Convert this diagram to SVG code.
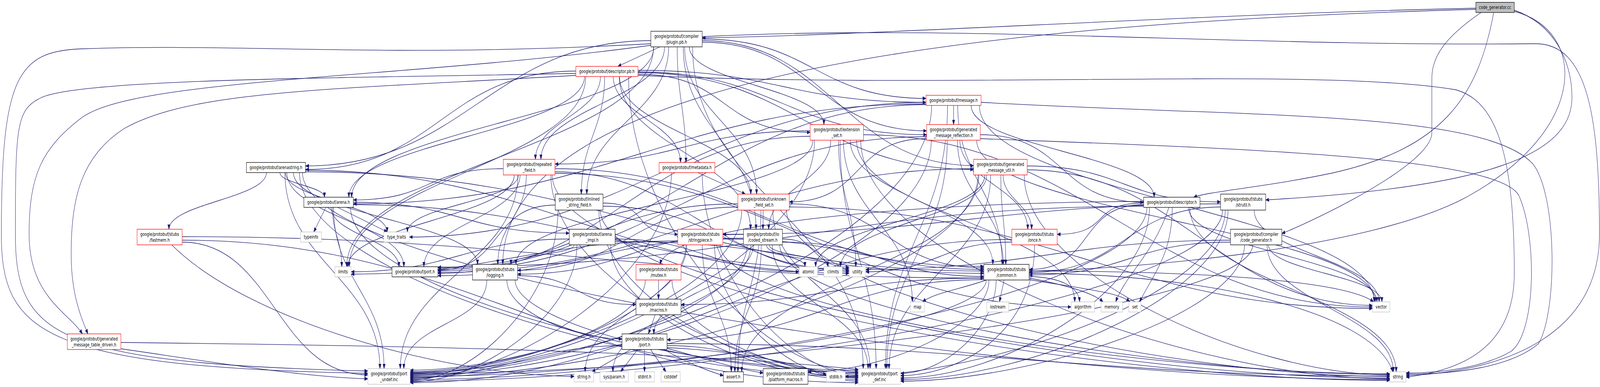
<svg xmlns="http://www.w3.org/2000/svg" width="5824" height="991" viewBox="0 0 5824 991" preserveAspectRatio="none" style="width:100vw;height:100vh">
<style>
rect{fill:#fff;stroke:#000;stroke-width:1.3}
.r rect{stroke:#ff0000}
.g rect{stroke:#bfbfbf}
.root rect{fill:#bfbfbf}
text{font-family:"DejaVu Sans","Liberation Sans",sans-serif;font-size:12.8px;text-anchor:middle;fill:#000}
#edges path{fill:none;stroke:#191970;stroke-width:1.3;marker-end:url(#ah)}
</style>
<defs>
<marker id="ah" markerUnits="userSpaceOnUse" markerWidth="12" markerHeight="10" viewBox="0 0 12 10" refX="12" refY="5" orient="auto"><path d="M0,0.5 L12,5 L0,9.5 z" fill="#191970" stroke="#191970"/></marker>
</defs>
<rect x="0" y="0" width="5824" height="991" style="fill:#fff;stroke:none"/>
<g id="edges">
<path d="M5391,32 C5250,100 5212,150 5212,200 L5212,340 C5212,420 4800,560 4666,598"/>
<path d="M5372,21 C4400,35 3200,90 2556,97"/>
<path d="M5437,32 C5380,250 5250,380 4850,443 C4600,480 4400,490 4345,505"/>
<path d="M5372,24 C3500,60 1830,200 1830,677"/>
<path d="M5512,29 C5780,80 5780,330 5350,500 C5000,640 4100,690 3746,694"/>
<path d="M5512,26 C5650,60 5722,150 5722,250 C5722,400 5400,480 4607,512"/>
<path d="M2379,120 C2379,373 1262,430 1262,683"/>
<path d="M2556,94 C3500,60 4500,120 5587,112 C5780,110 5822,300 5822,600 C5822,850 5500,950 5118,962"/>
<path d="M2521,120 C2521,491 3142,573 3142,944"/>
<path d="M2369,112 C1400,150 900,110 300,125 C60,130 5,200 5,600 C5,850 150,940 1339,956"/>
<path d="M2487,120 C2487,330 2752,377 2752,587"/>
<path d="M2380,120 C2380,293 1280,332 1280,505"/>
<path d="M2369,104 C1786,104 1695,425 1112,425"/>
<path d="M2369,116 C1500,200 500,200 300,300 C150,380 106,450 106,600 C106,760 250,800 300,855"/>
<path d="M2556,104 C3028,104 3072,424 3544,424"/>
<path d="M2434,120 C2434,290 2136,327 2136,497"/>
<path d="M2465,120 C2465,253 2497,283 2497,416"/>
<path d="M2556,108 C2959,108 2970,335 3373,335"/>
<path d="M2556,100 C2960,100 2967,252 3371,252"/>
<path d="M2419,120 C2419,250 1969,278 1969,408"/>
<path d="M2509,120 C2509,210 2999,229 2999,319"/>
<path d="M2492,120 C2492,290 2754,327 2754,497"/>
<path d="M2402,120 L2249,170"/>
<path d="M2132,195 C2132,415 1271,463 1271,683"/>
<path d="M2322,193 C3500,230 4800,170 5300,230 C5450,260 5512,400 5512,700 C5512,900 5300,950 5118,966"/>
<path d="M2288,195 C2288,574 2777,952 3124,952"/>
<path d="M2096,188 C1300,200 300,200 150,250 C60,280 56,320 56,600 C56,860 200,930 1339,950"/>
<path d="M2254,195 C2254,371 2732,411 2732,587"/>
<path d="M2128,195 C2128,335 1270,365 1270,505"/>
<path d="M2096,182 C1614,182 1594,434 1112,434"/>
<path d="M2096,193 C1200,230 700,230 450,330 C300,400 259,500 259,650 C259,760 300,820 320,855"/>
<path d="M2322,186 C2895,186 2971,434 3544,434"/>
<path d="M2201,195 C2201,331 2116,361 2116,497"/>
<path d="M2232,195 C2232,294 2477,317 2477,416"/>
<path d="M2322,184 C2826,184 2869,345 3373,345"/>
<path d="M2322,180 C2827,180 2866,262 3371,262"/>
<path d="M2186,195 C2186,291 1949,312 1949,408"/>
<path d="M2322,190 C2657,190 2614,339 2949,339"/>
<path d="M2255,195 C2255,331 2733,361 2733,497"/>
<path d="M3571,262 C4500,300 5400,280 5580,420 C5669,500 5669,800 5600,880 C5500,940 5300,958 5118,958"/>
<path d="M3371,262 C2560,262 2301,607 1490,607"/>
<path d="M3565,270 C3565,496 5002,547 5002,773"/>
<path d="M3486,270 C3486,453 3648,494 3648,677"/>
<path d="M3371,266 C2461,266 2196,522 1286,522"/>
<path d="M3535,270 C3535,376 4201,399 4201,505"/>
<path d="M3471,270 L3471,319"/>
<path d="M3371,268 C2587,268 2378,690 1594,690"/>
<path d="M3449,270 C3449,573 3223,641 3223,944"/>
<path d="M3391,270 C3391,612 2212,954 1493,954"/>
<path d="M3118,359 C3118,545 3912,587 3912,773"/>
<path d="M3070,359 C3070,545 3321,587 3321,773"/>
<path d="M3133,359 C3133,665 4344,970 5059,970"/>
<path d="M3052,359 C3052,505 3115,537 3115,683"/>
<path d="M3143,345 C3935,345 4204,786 4996,786"/>
<path d="M3095,359 C3095,502 3614,534 3614,677"/>
<path d="M2959,359 C2959,502 1878,534 1878,677"/>
<path d="M3024,359 C3024,462 2798,484 2798,587"/>
<path d="M2949,349 C2335,349 2208,700 1594,700"/>
<path d="M2949,335 C2501,335 2468,420 2020,420"/>
<path d="M3058,359 C3058,622 3189,681 3189,944"/>
<path d="M2965,359 C2965,659 2064,958 1493,958"/>
<path d="M3568,355 C4500,380 5450,400 5528,500 C5594,600 5594,850 5500,900 C5400,940 5250,956 5118,955"/>
<path d="M3555,359 C3555,545 5006,587 5006,773"/>
<path d="M3485,359 C3485,502 3652,534 3652,677"/>
<path d="M3568,345 C3886,345 3845,518 4163,518"/>
<path d="M3494,359 C3494,462 3741,484 3741,587"/>
<path d="M3373,350 C2589,350 2378,694 1594,694"/>
<path d="M3373,355 C3097,355 3149,517 2873,517"/>
<path d="M3448,359 C3448,622 3228,681 3228,944"/>
<path d="M3390,359 C3390,661 2212,962 1493,962"/>
<path d="M3563,448 C3563,675 2700,725 2700,952"/>
<path d="M3585,448 C3585,554 2969,577 2969,683"/>
<path d="M3592,448 C3592,554 3060,577 3060,683"/>
<path d="M3728,448 C3728,704 4553,960 5059,960"/>
<path d="M3739,435 C4293,435 4442,782 4996,782"/>
<path d="M3643,448 C3643,551 3661,574 3661,677"/>
<path d="M3651,448 C3651,511 3755,524 3755,587"/>
<path d="M3544,432 C2692,432 2446,698 1594,698"/>
<path d="M3739,425 C4093,425 4089,517 4443,517"/>
<path d="M3606,448 C3606,671 3236,721 3236,944"/>
<path d="M3560,448 C3560,707 2272,966 1493,966"/>
<path d="M2020,440 C2498,440 2613,696 3091,696"/>
<path d="M2020,444 C2826,444 3093,786 3899,786"/>
<path d="M1872,448 C1872,554 1266,577 1266,683"/>
<path d="M2010,448 C2010,708 3952,968 5059,968"/>
<path d="M1887,448 C1887,514 1483,528 1483,594"/>
<path d="M1916,448 C1916,551 1812,574 1812,677"/>
<path d="M2020,432 C2715,432 2886,690 3581,690"/>
<path d="M1832,432 C1540,432 1578,512 1286,512"/>
<path d="M1893,448 C1893,554 1543,577 1543,683"/>
<path d="M2005,448 C2005,702 2678,956 3124,956"/>
<path d="M1885,448 C1885,671 1457,721 1457,944"/>
<path d="M2540,442 L2713,497"/>
<path d="M2556,442 C2556,701 2879,960 3124,960"/>
<path d="M2444,442 C2444,706 1872,970 1493,970"/>
<path d="M1101,442 C1101,707 3630,972 5059,972"/>
<path d="M1039,442 C1039,510 1409,526 1409,594"/>
<path d="M1112,436 C1959,436 2244,700 3091,700"/>
<path d="M1068,442 C1068,548 1738,571 1738,677"/>
<path d="M1112,440 C2176,440 2517,700 3581,700"/>
<path d="M970,442 C970,507 615,522 615,587"/>
<path d="M1019,442 C1019,470 1181,477 1181,505"/>
<path d="M1044,442 C1044,550 1470,575 1470,683"/>
<path d="M1090,442 C1090,703 2355,964 3124,964"/>
<path d="M1037,442 C1037,668 1383,718 1383,944"/>
<path d="M2185,538 C2185,756 4016,974 5059,974"/>
<path d="M2195,528 C2600,528 2686,692 3091,692"/>
<path d="M2021,525 C1782,525 1833,692 1594,692"/>
<path d="M2195,520 C2371,520 2291,600 2467,600"/>
<path d="M2180,538 C2180,753 2741,968 3124,968"/>
<path d="M2031,538 C2031,756 1735,974 1493,974"/>
<path d="M2770,538 C2770,724 2686,766 2686,952"/>
<path d="M2863,538 C2863,751 4251,964 5059,964"/>
<path d="M2873,530 C3772,530 4097,790 4996,790"/>
<path d="M2873,522 C3227,522 3227,686 3581,686"/>
<path d="M2686,530 C2295,530 2275,692 1884,692"/>
<path d="M2778,538 L2777,587"/>
<path d="M2686,522 C2178,522 2102,686 1594,686"/>
<path d="M2813,538 C2813,721 3167,761 3167,944"/>
<path d="M2700,538 C2700,743 1970,948 1493,948"/>
<path d="M1210,531 C1210,599 1244,615 1244,683"/>
<path d="M1229,531 L1410,594"/>
<path d="M1286,524 C2056,524 2321,688 3091,688"/>
<path d="M1186,531 L1142,594"/>
<path d="M1286,518 C1670,518 1688,597 2072,597"/>
<path d="M1205,531 C1205,599 1452,615 1452,683"/>
<path d="M1276,531 C1276,740 2422,948 3124,948"/>
<path d="M1214,531 C1214,717 1398,758 1398,944"/>
<path d="M2239,612 C2553,612 2595,696 2909,696"/>
<path d="M2072,612 C1709,612 1641,696 1278,696"/>
<path d="M2239,618 C2842,618 2978,694 3581,694"/>
<path d="M2090,627 C2090,652 1860,652 1860,677"/>
<path d="M2223,627 C2223,800 2758,972 3124,972"/>
<path d="M2100,627 C2100,803 1752,978 1493,978"/>
<path d="M2556,627 C2556,773 2662,806 2662,952"/>
<path d="M2500,627 C2500,773 2130,806 2130,952"/>
<path d="M2467,617 C1947,617 1798,702 1278,702"/>
<path d="M2621,627 C2621,792 4170,957 5059,957"/>
<path d="M2631,612 C3077,612 3135,682 3581,682"/>
<path d="M2601,627 C2601,802 2896,976 3124,976"/>
<path d="M2497,627 C2497,792 1890,956 1493,956"/>
<path d="M2771,627 C2771,790 2675,800 2675,952"/>
<path d="M2790,627 C2790,655 2930,655 2930,683"/>
<path d="M2800,627 C2800,655 3013,655 3013,683"/>
<path d="M2838,627 C2838,793 4250,959 5059,959"/>
<path d="M2848,612 C2986,612 2953,684 3091,684"/>
<path d="M2733,627 C2733,773 2231,806 2231,952"/>
<path d="M2848,620 C3202,620 3227,708 3581,708"/>
<path d="M2706,600 C2316,600 2274,702 1884,702"/>
<path d="M2706,610 C2199,610 2101,706 1594,706"/>
<path d="M2742,627 C2742,730 2380,752 2380,855"/>
<path d="M2811,627 C2811,770 3160,801 3160,944"/>
<path d="M2720,627 C2720,794 1969,960 1493,960"/>
<path d="M625,627 C900,820 1600,960 2090,964"/>
<path d="M663,606 C1896,606 2348,712 3581,712"/>
<path d="M663,615 C1711,615 2076,980 3124,980"/>
<path d="M663,620 C997,620 1005,960 1339,960"/>
<path d="M440,877 C1500,885 2500,900 3124,946"/>
<path d="M440,893 C800,930 1100,965 1339,970"/>
<path d="M1884,706 C2122,706 2077,780 2315,780"/>
<path d="M1845,717 C1845,800 2100,868 2264,868"/>
<path d="M1875,717 C1875,833 2634,954 3124,954"/>
<path d="M1772,717 C1772,830 1470,830 1470,944"/>
<path d="M2397,717 L2397,766"/>
<path d="M2446,717 C2446,840 2843,962 3124,962"/>
<path d="M2349,717 C2349,834 1836,952 1493,952"/>
<path d="M2385,806 L2360,855"/>
<path d="M2418,895 C2500,930 2580,950 2633,962"/>
<path d="M2368,895 L2424,952"/>
<path d="M2428,880 C3525,880 3962,963 5059,963"/>
<path d="M2296,895 L2155,952"/>
<path d="M2346,895 L2346,952"/>
<path d="M2428,892 C2550,915 2680,945 2778,955"/>
<path d="M2428,885 C2738,885 2814,966 3124,966"/>
<path d="M2321,895 L2259,952"/>
<path d="M2428,890 C2700,900 2900,930 3008,960"/>
<path d="M2264,885 C1956,885 1801,968 1493,968"/>
<path d="M3683,620 C3425,620 3409,696 3151,696"/>
<path d="M3766,627 C3766,850 3500,960 3278,962"/>
<path d="M3683,613 C2807,613 2369,980 1493,980"/>
<path d="M3746,708 C3850,710 3925,730 3930,773"/>
<path d="M3655,717 L3638,773"/>
<path d="M3590,717 C3500,740 3400,750 3358,773"/>
<path d="M3746,712 C3880,730 3980,750 4015,773"/>
<path d="M3746,716 C3950,740 4080,750 4112,773"/>
<path d="M3746,700 C4400,700 5000,800 5070,952"/>
<path d="M3746,694 C4400,694 4900,720 5000,773"/>
<path d="M3581,712 C3075,712 2985,780 2479,780"/>
<path d="M3600,717 C3600,835 3222,952 2941,952"/>
<path d="M3581,716 C3054,716 2955,870 2428,870"/>
<path d="M3626,717 C3626,837 3440,956 3278,956"/>
<path d="M3590,717 C3590,841 2279,964 1493,964"/>
<path d="M4255,531 C4200,650 4100,700 4061,773"/>
<path d="M4267,531 C4267,650 4200,700 4148,773"/>
<path d="M4331,531 C4331,720 5082,763 5082,952"/>
<path d="M4326,531 C4326,640 5012,664 5012,773"/>
<path d="M4163,524 C3922,524 3987,690 3746,690"/>
<path d="M4163,516 C3500,516 2450,560 2402,677"/>
<path d="M4163,520 C3963,520 4048,600 3848,600"/>
<path d="M4163,528 C3061,528 2696,684 1594,684"/>
<path d="M4184,531 C4184,750 3650,968 3278,968"/>
<path d="M4175,531 C4175,752 2490,972 1493,972"/>
<path d="M4460,538 C4460,751 3596,964 3077,964"/>
<path d="M4565,538 C4565,644 5020,667 5020,773"/>
<path d="M4443,530 C4098,530 4091,698 3746,698"/>
<path d="M4443,522 C3653,522 3421,600 2631,600"/>
<path d="M4470,538 C4470,755 3741,972 3278,972"/>
<path d="M4450,538 C4450,757 2581,976 1493,976"/>
<path d="M4612,627 C4612,773 5072,806 5072,952"/>
<path d="M4479,615 C3899,615 3731,690 3151,690"/>
<path d="M4617,627 C4617,693 5030,707 5030,773"/>
<path d="M4479,620 C4115,620 4110,704 3746,704"/>
<path d="M4530,627 C4530,802 3758,976 3278,976"/>
<path d="M4560,627 C4560,792 2598,957 1493,957"/>
</g>
<g id="n0" class="root"><rect x="5372" y="6" width="140" height="26"/><text x="5442" y="23">code_generator.cc</text></g>
<g id="n1"><rect x="2369" y="80" width="187" height="40"/><text x="2462.5" y="97">google/protobuf/compiler</text><text x="2462.5" y="112">/plugin.pb.h</text></g>
<g id="n2" class="r"><rect x="2096" y="170" width="226" height="26"/><text x="2209" y="187">google/protobuf/descriptor.pb.h</text></g>
<g id="n3" class="r"><rect x="3371" y="244" width="200" height="26"/><text x="3471" y="261">google/protobuf/message.h</text></g>
<g id="n4" class="r"><rect x="2949" y="319" width="194" height="40"/><text x="3046" y="336">google/protobuf/extension</text><text x="3046" y="351">_set.h</text></g>
<g id="n5" class="r"><rect x="3373" y="319" width="195" height="40"/><text x="3470.5" y="336">google/protobuf/generated</text><text x="3470.5" y="351">_message_reflection.h</text></g>
<g id="n6" class="r"><rect x="3544" y="408" width="195" height="40"/><text x="3641.5" y="425">google/protobuf/generated</text><text x="3641.5" y="440">_message_util.h</text></g>
<g id="n7" class="r"><rect x="1832" y="408" width="188" height="40"/><text x="1926" y="425">google/protobuf/repeated</text><text x="1926" y="440">_field.h</text></g>
<g id="n8" class="r"><rect x="2399" y="416" width="203" height="26"/><text x="2500.5" y="433">google/protobuf/metadata.h</text></g>
<g id="n9"><rect x="897" y="416" width="215" height="26"/><text x="1004.5" y="433">google/protobuf/arenastring.h</text></g>
<g id="n10"><rect x="2021" y="497" width="174" height="41"/><text x="2108" y="514">google/protobuf/inlined</text><text x="2108" y="529">_string_field.h</text></g>
<g id="n11" class="r"><rect x="2686" y="497" width="187" height="41"/><text x="2779.5" y="514">google/protobuf/unknown</text><text x="2779.5" y="529">_field_set.h</text></g>
<g id="n12"><rect x="1106" y="505" width="180" height="26"/><text x="1196" y="522">google/protobuf/arena.h</text></g>
<g id="n13"><rect x="2072" y="587" width="167" height="40"/><text x="2155.5" y="604">google/protobuf/arena</text><text x="2155.5" y="619">_impl.h</text></g>
<g id="n14" class="r"><rect x="2467" y="587" width="164" height="40"/><text x="2549" y="604">google/protobuf/stubs</text><text x="2549" y="619">/stringpiece.h</text></g>
<g id="n15"><rect x="2706" y="587" width="142" height="40"/><text x="2777" y="604">google/protobuf/io</text><text x="2777" y="619">/coded_stream.h</text></g>
<g id="n16" class="r"><rect x="499" y="587" width="164" height="40"/><text x="581" y="604">google/protobuf/stubs</text><text x="581" y="619">/fastmem.h</text></g>
<g id="n17" class="r"><rect x="245" y="855" width="195" height="40"/><text x="342.5" y="872">google/protobuf/generated</text><text x="342.5" y="887">_message_table_driven.h</text></g>
<g id="n18" class="g"><rect x="1094" y="594" width="76" height="26"/><text x="1132" y="611">typeinfo</text></g>
<g id="n19" class="g"><rect x="1397" y="594" width="93" height="26"/><text x="1443.5" y="611">type_traits</text></g>
<g id="n20" class="g"><rect x="1219" y="683" width="59" height="26"/><text x="1248.5" y="700">limits</text></g>
<g id="n21"><rect x="1427" y="683" width="167" height="26"/><text x="1510.5" y="700">google/protobuf/port.h</text></g>
<g id="n22"><rect x="1720" y="677" width="164" height="40"/><text x="1802" y="694">google/protobuf/stubs</text><text x="1802" y="709">/logging.h</text></g>
<g id="n23" class="r"><rect x="2315" y="677" width="164" height="40"/><text x="2397" y="694">google/protobuf/stubs</text><text x="2397" y="709">/mutex.h</text></g>
<g id="n24"><rect x="2315" y="766" width="164" height="40"/><text x="2397" y="783">google/protobuf/stubs</text><text x="2397" y="798">/macros.h</text></g>
<g id="n25"><rect x="2264" y="855" width="164" height="40"/><text x="2346" y="872">google/protobuf/stubs</text><text x="2346" y="887">/port.h</text></g>
<g id="n26" class="g"><rect x="1339" y="944" width="154" height="40"/><text x="1416" y="961">google/protobuf/port</text><text x="1416" y="976">_undef.inc</text></g>
<g id="n27" class="g"><rect x="2090" y="952" width="71" height="26"/><text x="2125.5" y="969">string.h</text></g>
<g id="n28" class="g"><rect x="2184" y="952" width="103" height="26"/><text x="2235.5" y="969">sys/param.h</text></g>
<g id="n29" class="g"><rect x="2311" y="952" width="71" height="26"/><text x="2346.5" y="969">stdint.h</text></g>
<g id="n30" class="g"><rect x="2406" y="952" width="70" height="26"/><text x="2441" y="969">cstddef</text></g>
<g id="n31"><rect x="2633" y="952" width="73" height="26"/><text x="2669.5" y="969">assert.h</text></g>
<g id="n32"><rect x="2778" y="944" width="163" height="40"/><text x="2859.5" y="961">google/protobuf/stubs</text><text x="2859.5" y="976">/platform_macros.h</text></g>
<g id="n33" class="g"><rect x="2909" y="683" width="67" height="26"/><text x="2942.5" y="700">atomic</text></g>
<g id="n34" class="g"><rect x="2999" y="683" width="67" height="26"/><text x="3032.5" y="700">climits</text></g>
<g id="n35" class="g"><rect x="3091" y="683" width="60" height="26"/><text x="3121" y="700">utility</text></g>
<g id="n36" class="r"><rect x="3683" y="587" width="165" height="40"/><text x="3765.5" y="604">google/protobuf/stubs</text><text x="3765.5" y="619">/once.h</text></g>
<g id="n37"><rect x="3581" y="677" width="165" height="40"/><text x="3663.5" y="694">google/protobuf/stubs</text><text x="3663.5" y="709">/common.h</text></g>
<g id="n38" class="g"><rect x="3314" y="773" width="51" height="26"/><text x="3339.5" y="790">map</text></g>
<g id="n39" class="g"><rect x="3592" y="773" width="80" height="26"/><text x="3632" y="790">iostream</text></g>
<g id="n40" class="g"><rect x="3008" y="952" width="69" height="26"/><text x="3042.5" y="969">stdlib.h</text></g>
<g id="n41" class="g"><rect x="3124" y="944" width="154" height="40"/><text x="3201" y="961">google/protobuf/port</text><text x="3201" y="976">_def.inc</text></g>
<g id="n42"><rect x="4163" y="505" width="205" height="26"/><text x="4265.5" y="522">google/protobuf/descriptor.h</text></g>
<g id="n43"><rect x="4443" y="497" width="164" height="41"/><text x="4525" y="514">google/protobuf/stubs</text><text x="4525" y="529">/strutil.h</text></g>
<g id="n44"><rect x="4479" y="587" width="187" height="40"/><text x="4572.5" y="604">google/protobuf/compiler</text><text x="4572.5" y="619">/code_generator.h</text></g>
<g id="n45" class="g"><rect x="3899" y="773" width="85" height="26"/><text x="3941.5" y="790">algorithm</text></g>
<g id="n46" class="g"><rect x="4008" y="773" width="78" height="26"/><text x="4047" y="790">memory</text></g>
<g id="n47" class="g"><rect x="4109" y="773" width="44" height="26"/><text x="4131" y="790">set</text></g>
<g id="n48" class="g"><rect x="4996" y="773" width="63" height="26"/><text x="5027.5" y="790">vector</text></g>
<g id="n49" class="g"><rect x="5059" y="952" width="59" height="26"/><text x="5088.5" y="969">string</text></g>
</svg>
